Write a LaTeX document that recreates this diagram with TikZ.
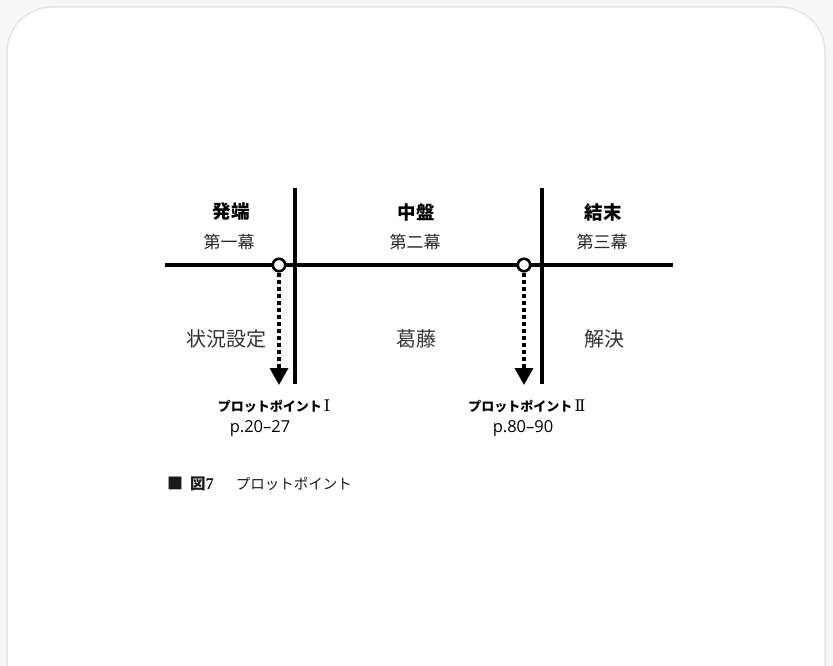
\documentclass[tikz,border=0pt]{standalone}
\usepackage{fontspec}
\newfontfamily\jp{Noto Sans CJK JP}
\newfontfamily\jpk[Kerning=Off]{Noto Sans CJK JP}
\newfontfamily\lat{Open Sans}
\newfontfamily\rom{DejaVu Serif}
\newfontfamily\ser{Liberation Serif}
\usetikzlibrary{arrows.meta}
\tikzset{
  axis/.style={line width=3.2pt, black},
  pointc/.style={circle, draw=black, line width=2.6pt, fill=white, minimum size=12.5pt, inner sep=0pt},
  ppdash/.style={line width=3.5pt, dash pattern=on 4pt off 3pt, -{Triangle[width=18pt,length=17pt]}},
  headt/.style={font=\jp\bfseries\fontsize{18.5}{20}\selectfont, text=black},
  actt/.style={font=\jp\fontsize{17}{19}\selectfont, text=black!85},
  bodyt/.style={font=\jp\fontsize{20}{22}\selectfont, text=black!80},
  ppt/.style={font=\jp\bfseries\fontsize{13}{15}\selectfont, text=black},
  paget/.style={font=\lat\fontsize{16.5}{19}\selectfont, text=black},
  capt/.style={font=\jpk\fontsize{14.5}{16}\selectfont, text=black!90, anchor=west, inner sep=0pt},
}
\begin{document}
\begin{tikzpicture}[x=1pt,y=-1pt]
\useasboundingbox (0,0) rectangle (833,666);
\fill[black!3] (0,0) rectangle (833,666);
\draw[black!10, line width=1.5pt, fill=white, rounded corners=45pt] (7,700) -- (7,7) -- (825,7) -- (825,700);
% axes
\draw[axis] (165,265) coordinate (hl) -- (673,265) coordinate (hr);
\draw[axis] (295,188) coordinate (v1t) -- (295,384) coordinate (v1b);
\draw[axis] (542,188) coordinate (v2t) -- (542,384) coordinate (v2b);
% plot points
\coordinate (tip1) at (279,385);
\coordinate (tip2) at (524,385);
\node[pointc] (c1) at (279,265) {};
\node[pointc] (c2) at (524,265) {};
\draw[ppdash] (c1.south) -- (tip1);
\draw[ppdash] (c2.south) -- (tip2);
% headings
\node[headt] (h1) at (231,212) {発端};
\node[headt] (h2) at (416,212) {中盤};
\node[headt] (h3) at (603,212) {結末};
\node[actt] (a1) at (229,242) {第一幕};
\node[actt] (a2) at (415,242) {第二幕};
\node[actt] (a3) at (602,242) {第三幕};
\node[bodyt] (b1) at (226,339) {状況設定};
\node[bodyt] (b2) at (416,339) {葛藤};
\node[bodyt] (b3) at (604,339) {解決};
\node[ppt] (p1) at (274,406) {プロットポイント\,{\rom\mdseries\fontsize{16}{16}\selectfont Ⅰ}};
\node[ppt] (p2) at (527,406) {プロットポイント\,{\rom\mdseries\fontsize{16}{16}\selectfont Ⅱ}};
\node[paget] (g1) at (260,428) {p.20–27};
\node[paget] (g2) at (523,428) {p.80–90};
% caption
\node[capt] (cap) at (167,484) {{\fontsize{16}{16}\selectfont ■}\hspace{7pt}{\bfseries\fontsize{15.5}{16}\selectfont 図}{\ser\bfseries\fontsize{16.5}{16}\selectfont 7}\hspace{22pt}プロットポイント};
\end{tikzpicture}
\end{document}
